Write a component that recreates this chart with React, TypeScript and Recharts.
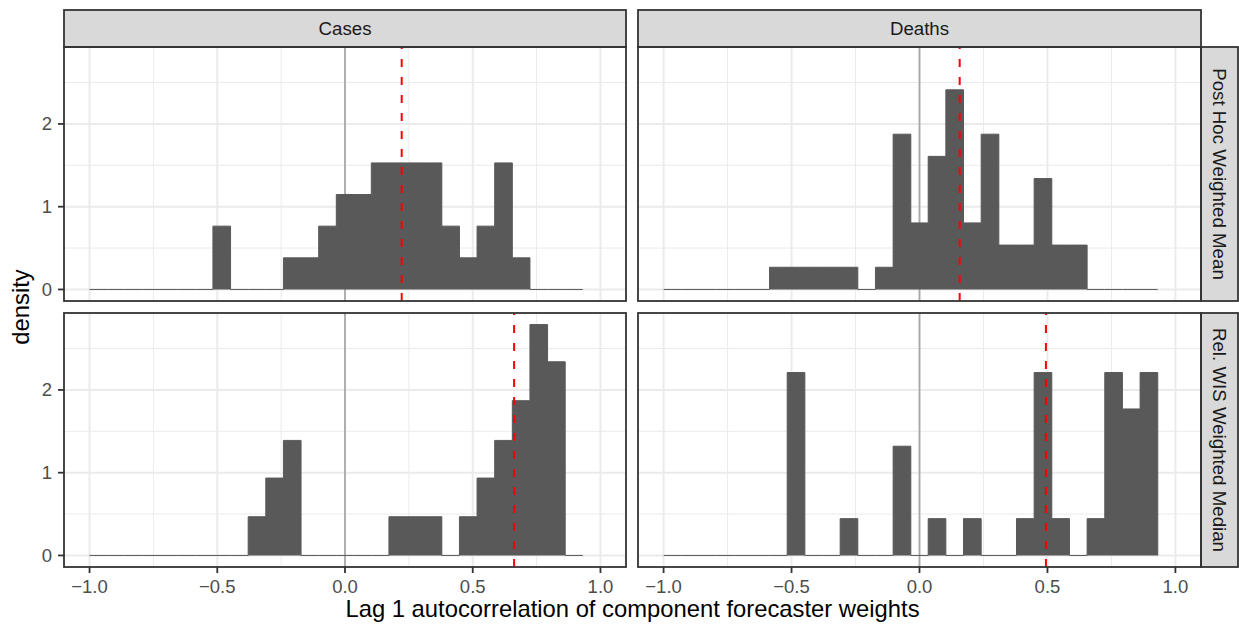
import React from 'react';
import { ComposedChart, Area, XAxis, YAxis, CartesianGrid, ReferenceLine } from 'recharts';

// Histogram bin edges (28 bins, width 2/29)
const binEdges = [
  -1.0, -0.931, -0.862, -0.793, -0.724, -0.655, -0.586, -0.517, -0.448, -0.379,
  -0.31, -0.241, -0.172, -0.103, -0.034, 0.034, 0.103, 0.172, 0.241, 0.31,
  0.379, 0.448, 0.517, 0.586, 0.655, 0.724, 0.793, 0.862, 0.931,
];

// Densities per bin
const casesPostHoc = [
  0, 0, 0, 0, 0, 0, 0, 0.765, 0, 0, 0, 0.382, 0.382, 0.765, 1.147, 1.147,
  1.529, 1.529, 1.529, 1.529, 0.765, 0.382, 0.765, 1.529, 0.382, 0, 0, 0,
];
const deathsPostHoc = [
  0, 0, 0, 0, 0, 0, 0.268, 0.268, 0.268, 0.268, 0.268, 0, 0.268, 1.876, 0.804, 1.608,
  2.412, 0.804, 1.876, 0.536, 0.536, 1.34, 0.536, 0.536, 0, 0, 0, 0,
];
const casesRelWis = [
  0, 0, 0, 0, 0, 0, 0, 0, 0, 0.468, 0.935, 1.39, 0, 0, 0, 0,
  0, 0.468, 0.468, 0.468, 0, 0.468, 0.935, 1.39, 1.87, 2.79, 2.34, 0,
];
const deathsRelWis = [
  0, 0, 0, 0, 0, 0, 0, 2.21, 0, 0, 0.445, 0, 0, 1.32, 0, 0.445,
  0, 0.445, 0, 0, 0.445, 2.21, 0.445, 0, 0.445, 2.21, 1.77, 2.21,
];

// Mean lines (red dashed)
const meanCasesPostHoc = 0.222;
const meanDeathsPostHoc = 0.157;
const meanCasesRelWis = 0.662;
const meanDeathsRelWis = 0.494;

const xTicks = [-1, -0.5, 0, 0.5, 1];
const xMinor = [-0.75, -0.25, 0.25, 0.75];
const yTicks = [0, 1, 2];
const yMinor = [0.5, 1.5, 2.5];
const colLabels = ['Cases', 'Deaths'];
const rowLabels = ['Post Hoc Weighted Mean', 'Rel. WIS Weighted Median'];
const xTitle = 'Lag 1 autocorrelation of component forecaster weights';
const yTitle = 'density';

const maxDensity = Math.max(...casesPostHoc, ...deathsPostHoc, ...casesRelWis, ...deathsRelWis);
const yDomain = [-0.05 * maxDensity, 1.05 * maxDensity];
const xDomain = [-1.1, 1.1];

const FONT = '"Liberation Sans", Arial, Helvetica, sans-serif';
const BAR = '#595959';

const toRows = (dens: number[]) =>
  binEdges.map((x, i) => ({ x, y: i < dens.length ? dens[i] : 0 }));

const fmtX = (v: number) => v.toFixed(1).replace('-', '\u2212');

type PanelProps = {
  dens: number[];
  mean: number;
  showX: boolean;
  showY: boolean;
  left: number;
  top: number;
  width: number;
  height: number;
};

function Panel({ dens, mean, showX, showY, left, top, width, height }: PanelProps) {
  const data = toRows(dens);
  return (
    <div style={{ position: 'absolute', left, top }}>
      <ComposedChart width={width} height={height} data={data} margin={{ top: 0, right: 0, bottom: 0, left: 0 }}>
        <CartesianGrid verticalValues={xMinor} horizontalValues={yMinor} stroke="#EBEBEB" strokeWidth={1} />
        <CartesianGrid verticalValues={xTicks} horizontalValues={yTicks} stroke="#EBEBEB" strokeWidth={2} />
        <CartesianGrid horizontal={false} verticalValues={[0]} stroke="#A9A9A9" strokeWidth={1.8} />
        <XAxis
          dataKey="x"
          type="number"
          domain={xDomain}
          allowDataOverflow
          ticks={xTicks}
          interval={0}
          hide={!showX}
          height={40}
          axisLine={false}
          tickLine={{ stroke: '#333333', strokeWidth: 1.8 }}
          tickSize={6}
          tickMargin={7}
          tickFormatter={fmtX}
          tick={{ fill: '#4D4D4D', fontSize: 18.5, fontFamily: FONT }}
        />
        <YAxis
          type="number"
          domain={yDomain}
          allowDataOverflow
          ticks={yTicks}
          interval={0}
          hide={!showY}
          width={64}
          axisLine={false}
          tickLine={{ stroke: '#333333', strokeWidth: 1.8 }}
          tickSize={6}
          tickMargin={6}
          tick={{ fill: '#4D4D4D', fontSize: 18.5, fontFamily: FONT }}
        />
        <Area
          type="stepAfter"
          dataKey="y"
          baseValue={0}
          fill={BAR}
          fillOpacity={1}
          stroke={BAR}
          strokeWidth={1}
          dot={false}
          activeDot={false}
          isAnimationActive={false}
        />
        <ReferenceLine x={mean} stroke="#FF0000" strokeWidth={2} strokeDasharray="8 10" />
      </ComposedChart>
    </div>
  );
}

export default function App() {
  const colX = [
    { x0: 64, x1: 626 },
    { x0: 638, x1: 1201 },
  ];
  const rowY = [
    { y0: 47, y1: 301 },
    { y0: 313, y1: 567 },
  ];
  const panels = [
    { dens: casesPostHoc, mean: meanCasesPostHoc, r: 0, c: 0 },
    { dens: deathsPostHoc, mean: meanDeathsPostHoc, r: 0, c: 1 },
    { dens: casesRelWis, mean: meanCasesRelWis, r: 1, c: 0 },
    { dens: deathsRelWis, mean: meanDeathsRelWis, r: 1, c: 1 },
  ];
  return (
    <div style={{ position: 'absolute', left: 0, top: 0, width: 1239, height: 626, background: '#fff', overflow: 'hidden' }}>
      {panels.map((p, i) => {
        const showY = p.c === 0;
        const showX = p.r === 1;
        const left = showY ? 0 : colX[p.c].x0;
        const width = colX[p.c].x1 - left;
        const top = rowY[p.r].y0;
        const height = rowY[p.r].y1 - rowY[p.r].y0 + (showX ? 40 : 0);
        return (
          <Panel key={i} dens={p.dens} mean={p.mean} showX={showX} showY={showY} left={left} top={top} width={width} height={height} />
        );
      })}
      <svg width={1239} height={626} style={{ position: 'absolute', left: 0, top: 0, pointerEvents: 'none' }}>
        {colX.map((c, i) => (
          <g key={'cs' + i}>
            <rect x={c.x0} y={10} width={c.x1 - c.x0} height={37} fill="#D9D9D9" stroke="#333333" strokeWidth={1.8} />
            <text x={(c.x0 + c.x1) / 2} y={28.5} textAnchor="middle" dominantBaseline="central" fontFamily={FONT} fontSize={18.7} fill="#1A1A1A">
              {colLabels[i]}
            </text>
          </g>
        ))}
        {rowY.map((r, i) => (
          <g key={'rs' + i}>
            <rect x={1201} y={r.y0} width={37} height={r.y1 - r.y0} fill="#D9D9D9" stroke="#333333" strokeWidth={1.8} />
            <text
              x={1219.5}
              y={(r.y0 + r.y1) / 2}
              textAnchor="middle"
              dominantBaseline="central"
              fontFamily={FONT}
              fontSize={18.7}
              fill="#1A1A1A"
              transform={`rotate(90 1219.5 ${(r.y0 + r.y1) / 2})`}
            >
              {rowLabels[i]}
            </text>
          </g>
        ))}
        {rowY.map((r, ri) =>
          colX.map((c, ci) => (
            <rect key={'pb' + ri + ci} x={c.x0} y={r.y0} width={c.x1 - c.x0} height={r.y1 - r.y0} fill="none" stroke="#333333" strokeWidth={1.8} />
          ))
        )}
        <text x={632.5} y={617} textAnchor="middle" fontFamily={FONT} fontSize={23.8} fill="#000">
          {xTitle}
        </text>
        <text x={29} y={307} textAnchor="middle" fontFamily={FONT} fontSize={23.8} fill="#000" transform="rotate(-90 29 307)">
          {yTitle}
        </text>
      </svg>
    </div>
  );
}
